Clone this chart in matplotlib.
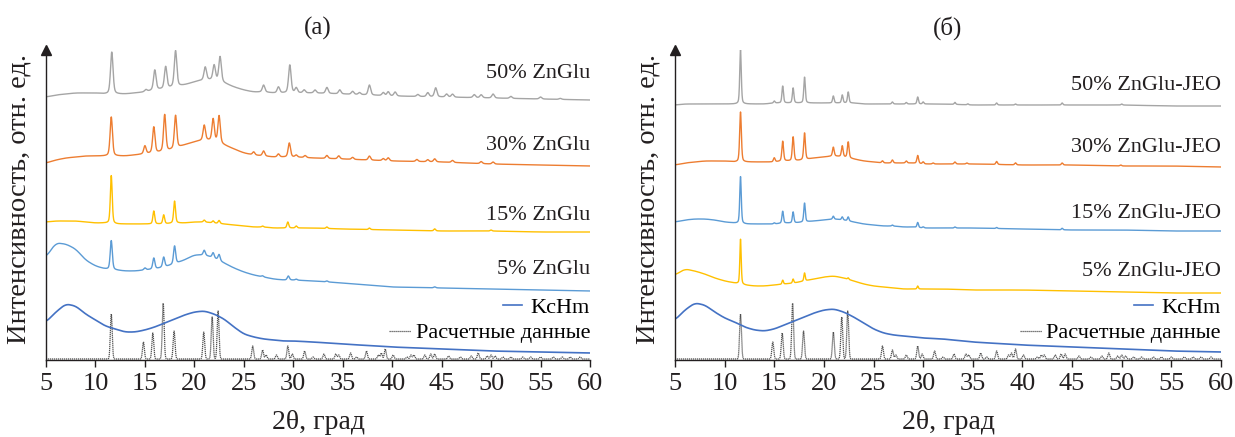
import numpy as np
import matplotlib
matplotlib.use('Agg')
import matplotlib.pyplot as plt
from matplotlib.lines import Line2D

plt.rcParams['font.family'] = ['Liberation Serif', 'DejaVu Serif']

# 2theta grid on which the background (baseline) of each pattern was read
grid = [5, 6, 7, 8, 9, 10, 11, 12, 13, 14, 15, 16, 17, 18, 19, 20, 21, 22, 23, 24,
        25, 26, 27, 28, 29, 30, 32, 35, 40, 45, 50, 55, 60]

# ---- panel (а): ZnGlu ----
base_a50 = [262, 264, 265, 266, 266, 266, 265, 265, 265, 266, 267, 269, 270, 272, 274, 277, 279, 279, 276, 272,
            269, 267, 267, 266, 266, 266, 266, 265, 263, 262, 261, 260, 259]
pos_a50 = [11.65, 15.1, 16.0, 17.1, 18.1, 21.1, 22.0, 22.6, 27.0, 28.5, 29.65, 30.3, 31.1, 32.2, 33.4, 34.7,
           36.0, 36.7, 37.7, 39.1, 39.6, 40.3, 42.6, 43.6, 44.4, 45.5, 46.1, 48.3, 49.0, 50.2, 52.0, 55.0, 57.0]
hgt_a50 = [42, 2, 20, 22, 36, 13, 15, 25, 7, 6, 28, 5, 3, 3, 6, 4,
           3, 2, 10, 3, 4, 4, 2, 4, 9, 3, 3, 3, 3, 4, 2, 2, 1]

base_a30 = [196, 199, 201, 202, 203, 203, 203, 203, 203, 204, 205, 206, 207, 210, 214, 217, 219, 218, 214, 210,
            206, 204, 203, 202, 202, 202, 201, 200, 198, 197, 195, 194, 193]
pos_a30 = [11.6, 15.0, 15.9, 17.0, 18.1, 21.0, 21.9, 22.5, 26.0, 27.0, 28.5, 29.6, 30.3, 31.2, 33.4, 34.6,
           36.0, 37.7, 39.1, 39.6, 42.5, 43.6, 44.3, 46.1, 49.0, 50.2]
hgt_a30 = [39, 8, 26, 37, 33, 15, 22, 27, 3, 5, 3, 14, 2, 2, 3, 3,
           2, 4, 2, 3, 2, 2, 3, 2, 2, 2]

base_a15 = [137, 138, 138, 138, 137, 136, 136, 135, 135, 135, 135, 135, 135, 136, 136, 137, 137, 136, 135, 134,
            133, 132, 132, 131, 131, 131, 131, 130, 129, 128, 128, 127, 127]
pos_a15 = [11.6, 15.9, 16.9, 18.0, 21.0, 21.9, 22.5, 26.9, 29.45, 30.3, 33.4, 37.7, 44.3, 50.0]
hgt_a15 = [48, 13, 9, 22, 2, 2, 3, 1, 6, 2, 1.5, 1.5, 2, 1]

base_a5 = [102, 116, 115, 110, 99, 93, 90, 89, 88, 88, 89, 90, 92, 95, 99, 104, 104, 101, 96, 91,
           87, 84, 82, 80, 79, 79, 78, 76, 72, 71, 70, 69, 68]
pos_a5 = [11.6, 15.0, 15.9, 16.9, 18.0, 21.0, 21.9, 22.5, 26.9, 29.5, 30.3, 33.4, 44.3]
hgt_a5 = [29, 2, 11, 10, 18, 5, 5, 6, 1, 4, 1, 1, 1]

base_a_kchm = [37, 47, 55, 53, 45, 39, 33, 30, 27, 27, 29, 32, 36, 40, 44, 47, 48, 45, 40, 32,
               25, 22, 20, 19, 18, 18, 17, 15, 12, 10, 8, 7, 6]

# ---- panel (б): ZnGlu-JEO ----
base_b50 = [254, 255, 255, 255, 255, 255, 255, 255, 255, 255, 256, 256, 256, 256, 256, 256, 256, 256, 256, 255,
            255, 255, 255, 255, 255, 255, 255, 254, 254, 254, 254, 253, 253]
pos_b50 = [11.6, 15.0, 15.85, 16.9, 18.05, 20.95, 21.85, 22.45, 26.9, 28.3, 29.45, 30.0, 33.2, 34.5,
           37.4, 39.3, 44.0, 50.0]
hgt_b50 = [54, 2, 17, 15, 26, 7, 8, 11, 2, 1.5, 7, 2, 2, 1, 2, 1, 2, 1]

base_b30 = [194, 196, 197, 198, 198, 198, 197, 197, 197, 197, 197, 198, 198, 199, 201, 202, 203, 202, 200, 198,
            197, 196, 196, 196, 196, 195, 195, 195, 194, 194, 193, 193, 192]
pos_b30 = [11.6, 15.0, 15.85, 16.9, 18.05, 20.95, 21.85, 22.45, 25.9, 26.9, 28.3, 29.45, 30.0, 31.0,
           33.2, 34.4, 37.4, 39.3, 44.0, 49.9]
hgt_b30 = [50, 4, 20, 24, 27, 9, 11, 16, 2, 3, 2, 8, 2, 1, 2, 1, 3, 2, 2, 1]

base_b15 = [137, 139, 140, 140, 139, 137, 136, 135, 135, 135, 135, 136, 136, 137, 138, 139, 140, 139, 137, 135,
            134, 133, 133, 132, 132, 131, 131, 131, 130, 129, 129, 128, 128]
pos_b15 = [11.6, 15.0, 15.85, 16.9, 18.05, 20.95, 21.85, 22.45, 26.9, 29.45, 30.0, 33.2, 37.4, 44.0]
hgt_b15 = [47, 1, 12, 11, 19, 3, 3, 4, 1, 5, 1, 1, 1, 1.5]

base_b5 = [84, 90, 88, 85, 81, 78, 76, 74, 73, 73, 74, 75, 76, 78, 80, 82, 83, 81, 78, 75,
           73, 72, 71, 70, 70, 70, 70, 69, 69, 68, 67, 66, 66]
pos_b5 = [11.6, 15.85, 16.9, 18.05, 22.45, 29.45]
hgt_b5 = [45, 4, 4, 8, 1.5, 3]

base_b_kchm = [39, 49, 56, 54, 47, 41, 37, 32, 29, 28, 30, 34, 38, 42, 46, 49, 50, 47, 42, 36,
               30, 26, 24, 23, 22, 21, 20, 17, 14, 12, 10, 8, 7]

# calculated pattern (same for both panels)
pos_calc = [11.6, 14.85, 15.8, 16.85, 17.95, 20.95, 21.8, 22.4, 25.9, 26.9, 27.25, 28.3, 29.45, 29.9, 31.15,
            32.0, 33.1, 34.3, 34.6, 35.8, 36.4, 37.4, 38.6, 38.9, 39.3, 40.1, 41.5, 41.9, 42.2, 43.3, 43.9,
            44.3, 45.7, 46.9, 48.0, 48.7, 49.6, 50.0, 50.4, 51.2, 52.0, 53.2, 54.0, 55.0, 56.3, 57.2, 58.0, 59.0]
hgt_calc = [45, 17, 26, 56, 28, 27, 42, 48, 13, 9, 4, 4, 13, 5, 8,
            2, 5, 5, 4, 6, 2, 8, 4, 6, 10, 4, 2, 4, 4, 4, 5,
            5, 3, 2, 3, 6, 3, 4, 3, 2, 2, 2, 2, 2, 2, 2, 2, 2]

c_gray = '#A5A5A5'
c_orange = '#ED7D31'
c_yellow = '#FFC000'
c_lblue = '#5B9BD5'
c_dblue = '#4472C4'
c_text = '#231F20'
calc_style = dict(color='#505050', lw=0.9, linestyle=(0, (1, 0.6)))

x = np.arange(5, 60.001, 0.02)


def background(base):
    # line through the read points, corners rounded off with a short running mean
    y = np.interp(x, grid, base)
    k = 41
    yp = np.pad(y, k // 2, mode='edge')
    return np.convolve(yp, np.ones(k) / k, mode='valid')


def pattern(base, pos, hgt, fwhm):
    y = background(base)
    for p, h in zip(pos, hgt):
        d = (x - p) / fwhm
        y = y + h * (0.6 * np.exp(-4 * np.log(2) * d ** 2) + 0.4 / (1 + 4 * d ** 2))
    return y


def calc_pattern(pos, hgt, fwhm):
    y = np.zeros_like(x)
    for p, h in zip(pos, hgt):
        d = (x - p) / fwhm
        y += h * np.exp(-4 * np.log(2) * d ** 2)
    return y


def setup(ax, title):
    ax.set_xlim(5, 60)
    ax.set_ylim(-1, 309)
    ax.set_xticks(np.arange(5, 61, 5))
    ax.set_yticks([])
    ax.spines['top'].set_visible(False)
    ax.spines['right'].set_visible(False)
    for s in ['left', 'bottom']:
        ax.spines[s].set_color(c_text)
        ax.spines[s].set_linewidth(1.0)
    ax.tick_params(axis='x', direction='out', length=5, width=1.0, pad=4.5,
                   labelsize=19, colors=c_text)
    ax.plot(0, 1, marker='^', color=c_text, markersize=7, transform=ax.transAxes, clip_on=False)
    ax.set_xlabel('2θ, град', fontsize=20, color=c_text, labelpad=11)
    ax.set_ylabel('Интенсивность, отн. ед.', fontsize=20.5, color=c_text)
    ax.yaxis.set_label_coords(-0.027, 0.52)
    ax.set_title(title, fontsize=18, color=c_text, pad=11)


def legend(ax):
    h1 = Line2D([], [], color=c_dblue, lw=1.2)
    h2 = Line2D([], [], **calc_style)
    l1 = ax.legend([h1], ['KcHm'], loc='center right', bbox_to_anchor=(1.0, 0.168), frameon=False,
                   fontsize=16, handlelength=0.85, handletextpad=0.4, borderpad=0, borderaxespad=0)
    ax.add_artist(l1)
    ax.legend([h2], ['Расчетные данные'], loc='center right', bbox_to_anchor=(1.0, 0.087), frameon=False,
              fontsize=16, handlelength=1.0, handletextpad=0.2, borderpad=0, borderaxespad=0)


fig = plt.figure(figsize=(12.35, 4.37), dpi=100)
ax1 = fig.add_axes([46 / 1235, 77 / 437, 544 / 1235, 310 / 437])
ax2 = fig.add_axes([675 / 1235, 77 / 437, 546 / 1235, 310 / 437])

calc = calc_pattern(pos_calc, hgt_calc, 0.22)

# panel (а)
ax1.plot(x, calc, **calc_style)
ax1.plot(x, background(base_a_kchm), color=c_dblue, lw=1.2)
ax1.plot(x, pattern(base_a5, pos_a5, hgt_a5, 0.25), color=c_lblue, lw=1.0)
ax1.plot(x, pattern(base_a15, pos_a15, hgt_a15, 0.22), color=c_yellow, lw=1.0)
ax1.plot(x, pattern(base_a30, pos_a30, hgt_a30, 0.28), color=c_orange, lw=1.0)
ax1.plot(x, pattern(base_a50, pos_a50, hgt_a50, 0.3), color=c_gray, lw=1.0)
labels_a = ['50% ZnGlu', '30% ZnGlu', '15% ZnGlu', '5% ZnGlu']
label_y_a = [285, 213, 144, 89]
for t, yy in zip(labels_a, label_y_a):
    ax1.text(60, yy, t, ha='right', va='center', fontsize=16, color=c_text)
setup(ax1, '(а)')
legend(ax1)

# panel (б)
ax2.plot(x, calc, **calc_style)
ax2.plot(x, background(base_b_kchm), color=c_dblue, lw=1.2)
ax2.plot(x, pattern(base_b5, pos_b5, hgt_b5, 0.16), color=c_yellow, lw=1.0)
ax2.plot(x, pattern(base_b15, pos_b15, hgt_b15, 0.18), color=c_lblue, lw=1.0)
ax2.plot(x, pattern(base_b30, pos_b30, hgt_b30, 0.2), color=c_orange, lw=1.0)
ax2.plot(x, pattern(base_b50, pos_b50, hgt_b50, 0.18), color=c_gray, lw=1.0)
labels_b = ['50% ZnGlu-JEO', '30% ZnGlu-JEO', '15% ZnGlu-JEO', '5% ZnGlu-JEO']
label_y_b = [273, 212, 146, 88]
for t, yy in zip(labels_b, label_y_b):
    ax2.text(60, yy, t, ha='right', va='center', fontsize=16, color=c_text)
setup(ax2, '(б)')
legend(ax2)

fig.savefig('out.png', dpi=100)
